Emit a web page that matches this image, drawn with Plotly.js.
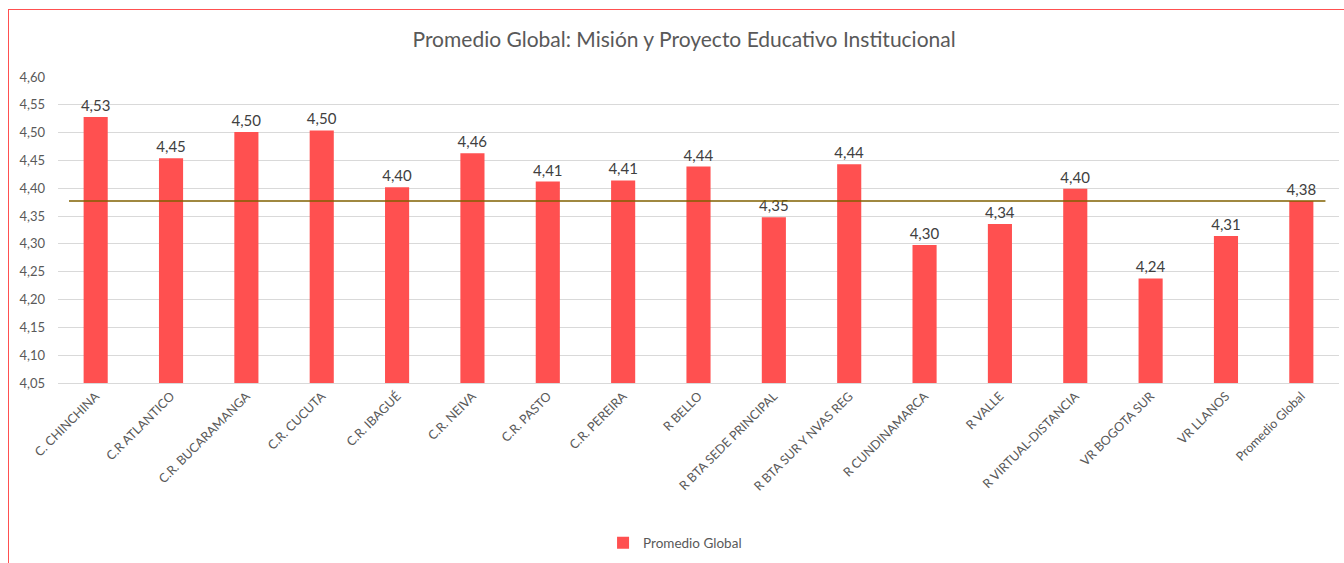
<!DOCTYPE html>
<html>
<head>
<meta charset="utf-8">
<script src="https://cdn.plot.ly/plotly-3.0.1.min.js"></script>
<style>
  html, body { margin: 0; padding: 0; background: #ffffff; }
  #chart { width: 1344px; height: 563px; }
  #frame { position: absolute; left: 8px; top: 9px; width: 1340px; height: 560px;
           border-left: 1px solid #ff5050; border-top: 1px solid #ff5050; pointer-events: none; }
</style>
</head>
<body>
<div id="chart"></div>
<div id="frame"></div>
<script>
const categories = [
  "C. CHINCHINA", "C.R ATLANTICO", "C.R. BUCARAMANGA", "C.R. CUCUTA", "C.R. IBAGUÉ",
  "C.R. NEIVA", "C.R. PASTO", "C.R. PEREIRA", "R BELLO", "R BTA SEDE PRINCIPAL",
  "R BTA SUR Y NVAS REG", "R CUNDINAMARCA", "R VALLE", "R VIRTUAL-DISTANCIA",
  "VR BOGOTA SUR", "VR LLANOS", "Promedio Global"
];
const promedioValues = [
  4.528, 4.454, 4.501, 4.504, 4.402,
  4.463, 4.412, 4.414, 4.439, 4.348,
  4.443, 4.298, 4.336, 4.399,
  4.238, 4.314, 4.377
];
const seriesName = "Promedio Global";
const globalAverage = 4.377;
const yTicks = [4.05, 4.10, 4.15, 4.20, 4.25, 4.30, 4.35, 4.40, 4.45, 4.50, 4.55, 4.60];
const chartTitle = "Promedio Global: Misión y Proyecto Educativo Institucional";

const FONT = "Lato, 'Open Sans', sans-serif";

const traces = [{
  type: "bar",
  name: seriesName,
  x: categories,
  y: promedioValues,
  marker: { color: "#ff5050" },
  width: 0.32,
  texttemplate: "%{y:.2f}",
  textposition: "outside",
  constraintext: "none",
  textfont: { family: FONT, size: 15, color: "#404040" },
  cliponaxis: false,
  hoverinfo: "x+y"
}];

const layout = {
  width: 1344,
  height: 563,
  separators: ",.",
  paper_bgcolor: "#ffffff",
  plot_bgcolor: "#ffffff",
  font: { family: FONT, color: "#595959" },
  title: {
    text: chartTitle,
    font: { family: FONT, size: 21, color: "#595959" },
    x: 0.509, xanchor: "center", xref: "container",
    y: 0.93, yanchor: "middle", yref: "container"
  },
  margin: { l: 58, r: 5, t: 77, b: 180 },
  showlegend: true,
  legend: {
    orientation: "h",
    x: 0.4817, xanchor: "center",
    y: -0.523, yanchor: "middle",
    font: { family: FONT, size: 13.5, color: "#595959" },
    itemwidth: 30
  },
  xaxis: {
    type: "category",
    tickangle: -45,
    tickfont: { family: FONT, size: 12.5, color: "#595959" },
    showgrid: false,
    showline: true,
    linecolor: "#d9d9d9",
    linewidth: 1,
    ticks: "",
    fixedrange: true
  },
  yaxis: {
    range: [4.05, 4.60],
    tickvals: yTicks,
    tickformat: ".2f",
    tickfont: { family: FONT, size: 13, color: "#595959" },
    ticklabelstandoff: 12,
    showgrid: true,
    gridcolor: "#d9d9d9",
    gridwidth: 1,
    zeroline: false,
    showline: false,
    ticks: "",
    fixedrange: true
  },
  shapes: [{
    type: "line",
    xref: "x", yref: "y",
    x0: -0.354, x1: 16.32,
    y0: globalAverage, y1: globalAverage,
    line: { color: "#806000", width: 1.5 }
  }]
};

Plotly.newPlot("chart", traces, layout, { displayModeBar: false, staticPlot: true });
</script>
</body>
</html>
